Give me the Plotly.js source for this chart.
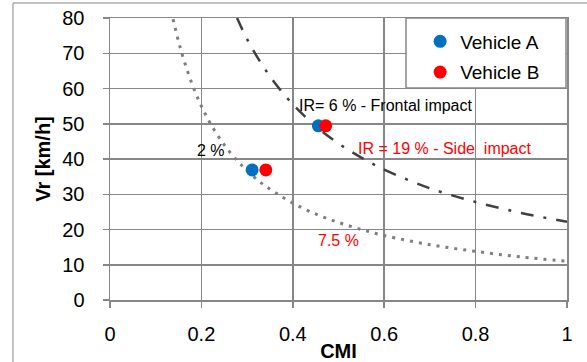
<!DOCTYPE html>
<html>
<head>
<meta charset="utf-8">
<script src="https://cdn.plot.ly/plotly-3.0.1.min.js"></script>
<style>html,body{margin:0;padding:0;background:#fff;}#chart{width:587px;height:362px;}</style>
</head>
<body>
<div id="chart"></div>
<script>
// Iso-risk curves
const cmiDotted = [0.138, 0.15, 0.16, 0.18, 0.20, 0.22, 0.25, 0.28, 0.30, 0.33, 0.36, 0.40, 0.45, 0.50, 0.55, 0.60, 0.70, 0.80, 0.90, 1.00];
const vrDotted  = [79.7, 73.3, 68.8, 61.1, 55.0, 50.0, 44.0, 39.3, 36.7, 33.3, 30.6, 27.5, 24.4, 22.0, 20.0, 18.3, 15.7, 13.8, 12.2, 11.0];
const cmiDashDot = [0.278, 0.30, 0.33, 0.36, 0.40, 0.45, 0.50, 0.55, 0.60, 0.70, 0.80, 0.90, 1.00];
const vrDashDot  = [80.0, 74.0, 67.3, 61.7, 55.5, 49.3, 44.4, 40.4, 37.0, 31.7, 27.8, 24.7, 22.2];
// Vehicles
const cmiVehicleA = [0.311, 0.456];
const vrVehicleA  = [36.9, 49.4];
const cmiVehicleB = [0.341, 0.472];
const vrVehicleB  = [36.9, 49.4];
// Labels
const labelTexts = ['2 %', 'IR= 6 % - Frontal impact', 'IR = 19 % - Side\u00A0 impact', '7.5 %'];
const labelX = [0.186, 0.409, 0.538, 0.451];
const labelY = [42.3, 55.3, 43.1, 17.0];
const labelColors = ['#000000', '#000000', '#FF0000', '#FF0000'];

const FONT = 'Liberation Sans, Arial, sans-serif';
const GRID = '#878787';

const traces = [
  {x: cmiDotted, y: vrDotted, mode: 'lines', line: {color: '#7f7f7f', width: 3, dash: '3px,6px', shape: 'spline'}, showlegend: false, hoverinfo: 'skip'},
  {x: cmiDashDot, y: vrDashDot, mode: 'lines', line: {color: '#404040', width: 2.5, dash: '13px,10px,3px,10px', shape: 'spline'}, showlegend: false, hoverinfo: 'skip'},
  {x: cmiVehicleA, y: vrVehicleA, mode: 'markers', name: 'Vehicle A', legendgroup: 'a', marker: {color: '#0070C0', size: 13}},
  {x: cmiVehicleB, y: vrVehicleB, mode: 'markers', name: 'Vehicle B', legendgroup: 'b', marker: {color: '#FF0000', size: 13}}
];

const annotations = labelTexts.map((t, i) => ({
  x: labelX[i], y: labelY[i], xref: 'x', yref: 'y', text: t, showarrow: false,
  xanchor: 'left', yanchor: 'middle', font: {family: FONT, size: 16, color: labelColors[i]}
}));

const axisCommon = {
  showgrid: true, gridcolor: GRID, gridwidth: 1.5,
  showline: true, linecolor: GRID, linewidth: 1.5, mirror: true,
  ticks: 'outside', ticklen: 6, tickcolor: GRID, tickwidth: 1.5,
  zeroline: false, tickfont: {family: FONT, size: 20, color: '#000'}
};

const layout = {
  width: 587, height: 362,
  margin: {l: 110, r: 20, t: 18, b: 62, pad: 0},
  paper_bgcolor: '#fff', plot_bgcolor: '#fff',
  hovermode: false,
  xaxis: Object.assign({}, axisCommon, {range: [0, 1], dtick: 0.2, tick0: 0, ticklabelstandoff: 9,
    title: {text: '<b>CMI</b>', font: {family: FONT, size: 20, color: '#000'}, standoff: 0}}),
  yaxis: Object.assign({}, axisCommon, {range: [0, 80], dtick: 10, tick0: 0, ticklabelstandoff: 14,
    title: {text: '<b>Vr [km/h]</b>', font: {family: FONT, size: 20, color: '#000'}, standoff: 6}}),
  legend: {x: 0.648, y: 0.984, xanchor: 'left', yanchor: 'top', bgcolor: 'rgba(0,0,0,0)', borderwidth: 0,
    font: {family: FONT, size: 19, color: '#000'}, tracegroupgap: 3, indentation: 14},
  annotations: annotations,
  shapes: [
    {type: 'rect', xref: 'paper', yref: 'paper', x0: -0.2123, x1: 1.1, y0: -0.3, y1: 1.0532,
      line: {color: '#868686', width: 1}, layer: 'above'},
    {type: 'rect', xref: 'paper', yref: 'paper', x0: 0.6477, x1: 0.9978, y0: 0.7518, y1: 1.0,
      fillcolor: '#fff', line: {color: GRID, width: 1.5}, layer: 'above'}
  ]
};

Plotly.newPlot('chart', traces, layout, {displayModeBar: false, staticPlot: true});
</script>
</body>
</html>
